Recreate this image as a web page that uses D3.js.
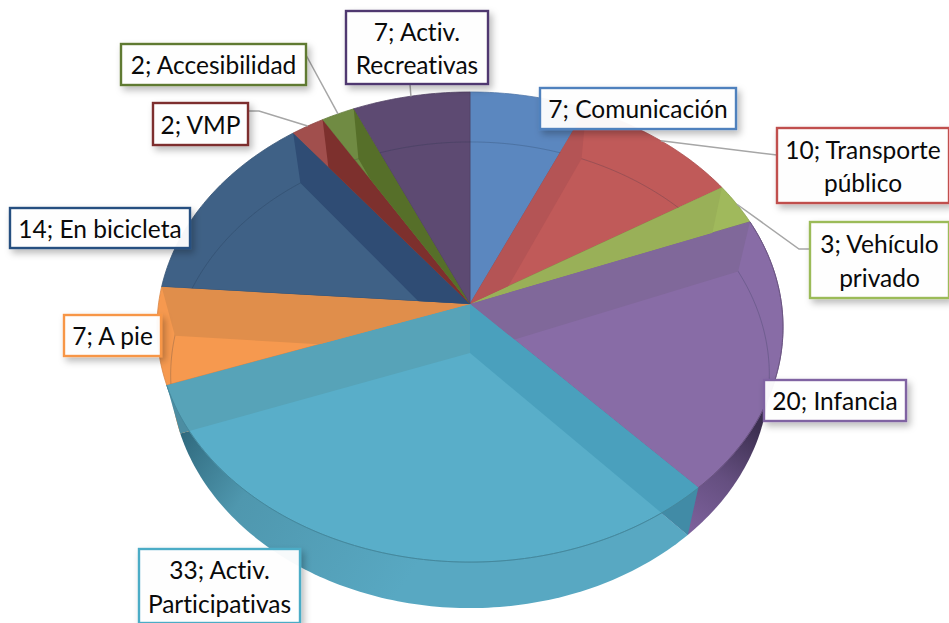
<!DOCTYPE html>
<html><head><meta charset="utf-8">
<script src="https://cdn.jsdelivr.net/npm/d3@7"></script>
<style>html,body{margin:0;padding:0;background:#fff;overflow:hidden}svg{display:block}text{font-variant-ligatures:none}</style>
</head><body><div id="c"></div>
<script>
const categories=["Comunicación","Transporte público","Vehículo privado","Infancia","Activ. Participativas","A pie","En bicicleta","VMP","Accesibilidad","Activ. Recreativas"];
const values=[7,10,3,20,33,7,14,2,2,7];
const labelLines=[["7; Comunicación"],["10; Transporte","público"],["3; Vehículo","privado"],["20; Infancia"],["33; Activ.","Participativas"],["7; A pie"],["14; En bicicleta"],["2; VMP"],["2; Accesibilidad"],["7; Activ.","Recreativas"]];
const topColors=["#5b87bf","#c05a59","#a0b95c","#886ca6","#59aec9","#f6994f","#3f6186","#a14f4d","#708b43","#5d4a72"];
const wallStart=["#5b87bf","#b45455","#99b058","#80689a","#4aa0bd","#e08e4b","#3f6186","#a14f4d","#708b43","#5d4a72"];
const wallEnd=["#5b87bf","#b45455","#99b058","#80689a","#57a3b8","#e08e4b","#2f4c74","#7d302d","#566f29","#5d4a72"];
const borderColors=["#4f81bd","#c0504d","#9bbb59","#8064a2","#4bacc6","#f79646","#254f80","#7d2f2d","#5f7a30","#50396f"];

const W=949,H=623;
// layout of the tilted disc: a projected circle for the top face and one for the lower face
const topFace={x:470,y:304,A:311.5,B:232.8,k:0.098};
const lowFace={x:470,y:353,A:298,B:231,k:0.0945};
const project=(f,a)=>{const u=Math.sin(a),v=-Math.cos(a),w=1-f.k*v;return [f.x+f.A*u/w,f.y+f.B*v/w];};
const sample=(a0,a1)=>{const n=Math.max(2,Math.ceil((a1-a0)/(Math.PI/180)));return d3.range(n+1).map(i=>a0+(a1-a0)*i/n);};
const line=d3.line();
const sector=(f,d)=>line([[f.x,f.y],...sample(d.startAngle,d.endAngle).map(a=>project(f,a))])+"Z";
const ring=f=>line(sample(0,2*Math.PI).map(a=>project(f,a)))+"Z";

const arcs=d3.pie().sort(null).value(d=>d)(values);
const svg=d3.select("#c").append("svg").attr("width",W).attr("height",H).attr("font-family","Lato, 'Noto Sans', sans-serif");
const defs=svg.append("defs");

const f=defs.append("filter").attr("id","sh").attr("x","-20%").attr("y","-30%").attr("width","150%").attr("height","170%");
f.append("feDropShadow").attr("dx",3).attr("dy",4).attr("stdDeviation",3.5).attr("flood-color","#000").attr("flood-opacity",.28);

const grad=(id,x1,y1,x2,y2,stops)=>{const g=defs.append("linearGradient").attr("id",id).attr("gradientUnits","userSpaceOnUse").attr("x1",x1).attr("y1",y1).attr("x2",x2).attr("y2",y2);
  stops.forEach(s=>g.append("stop").attr("offset",s[0]).attr("stop-color",s[1]));};
grad("rimTeal",170,430,400,590,[[0,"#2c6478"],[.35,"#4f97ae"],[1,"#58a8c2"]]);
grad("rimPurple",762,430,695,535,[[0,"#3c2f50"],[.5,"#654f80"],[1,"#7d619c"]]);
const rimFill=i=>i===4?"url(#rimTeal)":i===3?"url(#rimPurple)":d3.color(topColors[i]).darker(.4);

defs.append("clipPath").attr("id","outTop").append("path").attr("clip-rule","evenodd").attr("d",`M0,0H${W}V${H}H0Z`+ring(topFace));
defs.append("clipPath").attr("id","topClip").append("path").attr("d",ring(topFace));
arcs.forEach((d,i)=>{defs.append("clipPath").attr("id","sl"+i).append("path").attr("d",sector(topFace,d));});

// outer side of the disc
svg.append("g").selectAll("path").data(arcs).join("path").attr("d",d=>sector(lowFace,d)).attr("fill",(d,i)=>rimFill(i));

// top faces
svg.append("g").selectAll("path").data(arcs).join("path").attr("d",d=>sector(topFace,d))
  .attr("fill",(d,i)=>topColors[i]).attr("stroke",(d,i)=>d3.color(topColors[i]).darker(.35)).attr("stroke-width",.8).attr("stroke-linejoin","round");

// faint inner rim line of the lower face
svg.append("path").attr("d",ring(lowFace)).attr("clip-path","url(#topClip)").attr("fill","none").attr("stroke","#1c2c44").attr("stroke-opacity",.22).attr("stroke-width",1);

// inner walls seen through the translucent slices
const screenAngle=p=>Math.atan2(p[0]-topFace.x,-(p[1]-topFace.y));
const norm=a=>(a%(2*Math.PI)+2*Math.PI)%(2*Math.PI);
const walls=svg.append("g");
arcs.forEach((d,i)=>{
  const front=d.startAngle<Math.PI&&d.endAngle>Math.PI;
  [[d.startAngle,wallStart[i]],[d.endAngle,wallEnd[i]]].forEach(([a,col])=>{
    const p=project(topFace,a),q=project(lowFace,a);
    const mid=[(p[0]+topFace.x)/2,(p[1]+topFace.y)/2+8];
    const t=norm(screenAngle(mid)),s0=norm(screenAngle(project(topFace,d.startAngle))),s1=norm(screenAngle(project(topFace,d.endAngle-1e-6)));
    if(!(t>s0&&t<(s1<s0?s1+2*Math.PI:s1)))return;
    const quad=line([[topFace.x,topFace.y],p,q,[lowFace.x,lowFace.y]])+"Z";
    const w=walls.append("path").attr("d",quad).attr("fill",col);
    if(front){
      walls.append("path").attr("d",quad).attr("fill","#123").attr("fill-opacity",.16).attr("clip-path","url(#outTop)");
    } else w.attr("clip-path",`url(#sl${i})`);
  });
});

// front edge of the top face
arcs.forEach((d,i)=>{ if(i===3||i===4)
  svg.append("path").attr("d",line(sample(d.startAngle,d.endAngle).map(a=>project(topFace,a)))).attr("fill","none").attr("stroke",d3.color(topColors[i]).darker(.7)).attr("stroke-width",1);});

// label boxes: left, top, width, height in page pixels, by category order
const boxes=[[540,88,196,41],[777,128,172,75],[810,222,139,76],[764,380,142,41],[139,549,161,74],[64,315,97,41],[10,208,180,40],[153,103,95,42],[121,44,185,41],[346,11,142,73]];
// leader lines: slice index → path from the box edge to the slice's middle on the rim
const leaderPts={1:[[777,155]],2:[[810,249],[799,249]],7:[[248,111],[259,111]],8:[[306,55]],9:[[410,84]]};
const leaders=svg.append("g");
Object.keys(leaderPts).forEach(k=>{const d=arcs[k],a=(d.startAngle+d.endAngle)/2;
  leaders.append("path").attr("d",line([...leaderPts[k],project(topFace,a)])).attr("fill","none").attr("stroke","#a6a6a6").attr("stroke-width",1.5);});

const lab=svg.append("g").selectAll("g").data(labelLines).join("g");
lab.append("rect").attr("x",(d,i)=>boxes[i][0]).attr("y",(d,i)=>boxes[i][1]).attr("width",(d,i)=>boxes[i][2]).attr("height",(d,i)=>boxes[i][3])
  .attr("fill","#fff").attr("fill-opacity",.95).attr("stroke",(d,i)=>borderColors[i]).attr("stroke-width",2.4).attr("filter","url(#sh)");
lab.each(function(d,i){const g=d3.select(this),b=boxes[i],lh=33.5,y0=b[1]+b[3]/2-(d.length-1)*lh/2+1;
  d.forEach((t,j)=>g.append("text").attr("x",b[0]+b[2]/2).attr("y",y0+j*lh).attr("dy","0.36em").attr("text-anchor","middle").attr("font-size",24.5).attr("fill","#0a0a0a").text(t));});
</script></body></html>
